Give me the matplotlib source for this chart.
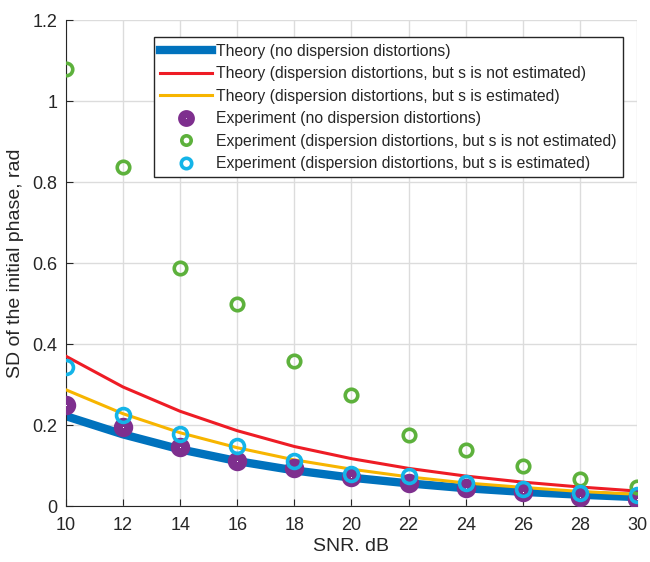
import numpy as np
import matplotlib
matplotlib.use("Agg")
import matplotlib.pyplot as plt

plt.rcParams['font.family'] = ['Liberation Sans', 'DejaVu Sans']

# SNR grid (dB)
snr = [10, 12, 14, 16, 18, 20, 22, 24, 26, 28, 30]

# theory curves, SD of initial phase (rad)
theory_nodisp = [0.222, 0.177, 0.140, 0.111, 0.088, 0.070, 0.056, 0.044, 0.035, 0.028, 0.022]
theory_notest = [0.370, 0.294, 0.234, 0.186, 0.147, 0.117, 0.093, 0.074, 0.059, 0.047, 0.037]
theory_est = [0.287, 0.228, 0.181, 0.144, 0.114, 0.091, 0.072, 0.057, 0.046, 0.036, 0.029]

# experiment points
exp_nodisp = [0.249, 0.194, 0.146, 0.111, 0.095, 0.072, 0.056, 0.044, 0.035, 0.023, 0.017]
exp_notest = [1.079, 0.837, 0.588, 0.499, 0.358, 0.275, 0.175, 0.138, 0.099, 0.067, 0.048]
exp_est = [0.343, 0.226, 0.179, 0.148, 0.111, 0.079, 0.074, 0.058, 0.043, 0.031, 0.028]

labels = ["Theory (no dispersion distortions)",
          "Theory (dispersion distortions, but s is not estimated)",
          "Theory (dispersion distortions, but s is estimated)",
          "Experiment (no dispersion distortions)",
          "Experiment (dispersion distortions, but s is not estimated)",
          "Experiment (dispersion distortions, but s is estimated)"]

blue = "#0072BD"
red = "#EE1C25"
yellow = "#F7B500"
purple = "#7E2F8E"
green = "#5DB13C"
cyan = "#14B4E8"
txt = "#262626"

fig = plt.figure(figsize=(6.5, 5.62), dpi=100)
ax = fig.add_axes([0.1015, 0.0996, 0.8785, 0.8644])

ax.plot(snr, theory_nodisp, color=blue, lw=6, label=labels[0], zorder=2)
ax.plot(snr, theory_notest, color=red, lw=2.2, label=labels[1], zorder=3)
ax.plot(snr, theory_est, color=yellow, lw=2.2, label=labels[2], zorder=3)
ax.plot(snr, exp_nodisp, ls="none", marker="o", ms=7.5, mfc="white", mec=purple, mew=6.5,
        label=labels[3], zorder=4)
ax.plot(snr, exp_notest, ls="none", marker="o", ms=9, mfc="none", mec=green, mew=2.6,
        label=labels[4], zorder=5)
ax.plot(snr, exp_est, ls="none", marker="o", ms=10, mfc="none", mec=cyan, mew=2.6,
        label=labels[5], zorder=6)

ax.set_xlim(10, 30)
ax.set_ylim(0, 1.2)
ax.set_xticks(np.arange(10, 31, 2))
ax.set_yticks([0, 0.2, 0.4, 0.6, 0.8, 1.0, 1.2])
ax.set_yticklabels(["0", "0.2", "0.4", "0.6", "0.8", "1", "1.2"])
ax.grid(True, color="#DCDCDC", lw=1)
ax.set_axisbelow(True)
for s in ["top", "right"]:
    ax.spines[s].set_visible(False)
for s in ["left", "bottom"]:
    ax.spines[s].set_color(txt)
ax.tick_params(direction="in", length=5, colors=txt, labelsize=13)
ax.tick_params(axis="x", pad=8)
ax.tick_params(axis="y", pad=6)
ax.set_xlabel("SNR. dB", fontsize=14, color=txt, labelpad=3)
ax.set_ylabel("SD of the initial phase, rad", fontsize=14, color=txt, labelpad=6)

leg = ax.legend(loc="upper right", bbox_to_anchor=(0.975, 0.965), fontsize=11.3,
                handlelength=3.3, handletextpad=0.25, labelspacing=0.48,
                borderpad=0.4, fancybox=False, framealpha=1, edgecolor=txt,
                borderaxespad=0, markerscale=0.75)
leg.get_frame().set_linewidth(1)
for t in leg.get_texts():
    t.set_color(txt)

fig.savefig("out.png", dpi=100)
